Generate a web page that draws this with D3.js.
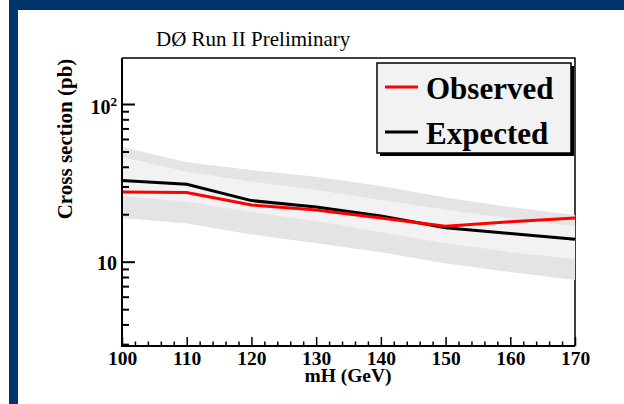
<!DOCTYPE html>
<html>
<head>
<meta charset="utf-8">
<script src="https://cdn.jsdelivr.net/npm/d3@7"></script>
<style>
  html, body { margin: 0; padding: 0; background: #ffffff; }
  svg { display: block; }
  text { font-family: "Liberation Serif", "Times New Roman", serif; }
</style>
</head>
<body>
<svg id="chart" width="624" height="404"></svg>
<script>
// Higgs mass points (GeV)
const mH = [100, 110, 120, 130, 140, 150, 160, 170];
// Cross-section limits (pb)
const observed = [27.7, 27.5, 22.9, 21.3, 18.9, 16.8, 17.9, 18.9];
const expected = [32.7, 31.0, 24.4, 22.2, 19.5, 16.4, 15.1, 13.9];
// Expected-limit bands
const band2Up = [53.6, 42.7, 38.1, 34.6, 30.2, 25.5, 22.2, 19.8];
const band1Up = [46.1, 37.2, 32.3, 28.5, 24.6, 21.4, 18.8, 16.7];
const band1Dn = [26.1, 24.0, 20.7, 18.1, 15.4, 13.1, 11.5, 10.35];
const band2Dn = [18.9, 17.5, 14.9, 13.1, 11.5, 9.74, 8.61, 7.66];
// Axis ticks
const xMajor = [100, 110, 120, 130, 140, 150, 160, 170];
const xMinor = d3.range(100, 171, 2).filter(v => v % 10 !== 0);
const yMajor = [10, 100];
const yMinor = [3, 4, 5, 6, 7, 8, 9, 20, 30, 40, 50, 60, 70, 80, 90];
const legendItems = [
  { label: "Observed", color: "#ff0000" },
  { label: "Expected", color: "#000000" }
];

const svg = d3.select("#chart");
const blue = "#00346a";

// page frame
svg.append("rect").attr("x", 0).attr("y", 0).attr("width", 624).attr("height", 404).attr("fill", "#fff");
svg.append("rect").attr("x", 9).attr("y", 0).attr("width", 615).attr("height", 10).attr("fill", blue);
svg.append("rect").attr("x", 9).attr("y", 0).attr("width", 9).attr("height", 404).attr("fill", blue);

const L = 122, R = 575, T = 58, B = 346;
const x = d3.scaleLinear().domain([100, 170]).range([L, R]);
const y = d3.scaleLog().domain([2.92, 195.8]).range([B, T]);

// top / right frame
svg.append("path")
  .attr("d", `M${L},${T}H${R}V${B}`)
  .attr("fill", "none").attr("stroke", "#000").attr("stroke-width", 1.5);

// bands
const bandArea = (lo, hi) => d3.area()
  .x((d, i) => x(mH[i]))
  .y0((d, i) => y(lo[i]))
  .y1((d, i) => y(hi[i]));

svg.append("path").datum(mH).attr("d", bandArea(band2Dn, band2Up)).attr("fill", "#e4e4e4");
svg.append("path").datum(mH).attr("d", bandArea(band1Dn, band1Up)).attr("fill", "#f2f2f2");

// limit curves
const curve = vals => d3.line().x((d, i) => x(mH[i])).y((d, i) => y(vals[i]));
svg.append("path").datum(mH).attr("d", curve(expected))
  .attr("fill", "none").attr("stroke", "#000").attr("stroke-width", 3);
svg.append("path").datum(mH).attr("d", curve(observed))
  .attr("fill", "none").attr("stroke", "#ff0000").attr("stroke-width", 3);

// x axis
const gx = svg.append("g").attr("transform", `translate(0,${B})`);
gx.call(d3.axisBottom(x).tickValues(xMinor).tickSize(-4.5).tickFormat(""));
gx.call(g => g.select(".domain").remove());
const gxM = svg.append("g").attr("transform", `translate(0,${B})`);
gxM.call(d3.axisBottom(x).tickValues(xMajor).tickSize(-9).tickPadding(5).tickFormat(d3.format("d")));
gxM.selectAll(".tick line").attr("stroke-width", 1.5);
gx.selectAll(".tick line").attr("stroke-width", 1.5);
gxM.select(".domain").attr("stroke-width", 2).attr("d", `M${L},0H${R}`);
gxM.selectAll(".tick text")
  .attr("font-family", "Liberation Serif").attr("font-size", 19.5).attr("font-weight", "bold").attr("fill", "#000");

// y axis
const gy = svg.append("g").attr("transform", `translate(${L},0)`);
gy.call(d3.axisLeft(y).tickValues(yMinor).tickSize(-7).tickFormat(""));
gy.call(g => g.select(".domain").remove());
const gyM = svg.append("g").attr("transform", `translate(${L},0)`);
gyM.call(d3.axisLeft(y).tickValues(yMajor).tickSize(-13).tickFormat(""));
gyM.select(".domain").attr("stroke-width", 2).attr("d", `M0,${T}V${B + 1}`);
gy.selectAll(".tick line").attr("stroke-width", 2);
gyM.selectAll(".tick line").attr("stroke-width", 2);

// y tick labels
svg.append("text").attr("x", 117).attr("y", y(10) + 8)
  .attr("text-anchor", "end").attr("font-size", 20).attr("font-weight", "bold").text("10");
const yl100 = svg.append("text").attr("x", 117).attr("y", y(100) + 10)
  .attr("text-anchor", "end").attr("font-size", 20).attr("font-weight", "bold");
yl100.append("tspan").text("10");
yl100.append("tspan").attr("font-size", 13).attr("dy", -8).text("2");

// axis titles
svg.append("text").attr("x", 348).attr("y", 382)
  .attr("text-anchor", "middle").attr("font-size", 19.5).attr("font-weight", "bold").text("mH (GeV)");
svg.append("text").attr("transform", `translate(72,139) rotate(-90)`)
  .attr("text-anchor", "middle").attr("font-size", 21).attr("font-weight", "bold").text("Cross section (pb)");

// header
svg.append("text").attr("x", 156).attr("y", 46).attr("font-size", 21).text("DØ Run II Preliminary");

// legend
const lg = svg.append("g");
lg.append("rect").attr("x", 380).attr("y", 66).attr("width", 194).attr("height", 90).attr("fill", "#000");
lg.append("rect").attr("x", 377).attr("y", 63).attr("width", 194).attr("height", 90)
  .attr("fill", "#f2f2f2").attr("stroke", "#000").attr("stroke-width", 1.5);
legendItems.forEach((it, i) => {
  const cy = 87 + i * 45;
  lg.append("line").attr("x1", 385).attr("x2", 418).attr("y1", cy).attr("y2", cy)
    .attr("stroke", it.color).attr("stroke-width", 3);
  lg.append("text").attr("x", 426).attr("y", cy + 12).attr("font-size", 31).attr("font-weight", "bold").text(it.label);
});
</script>
</body>
</html>
